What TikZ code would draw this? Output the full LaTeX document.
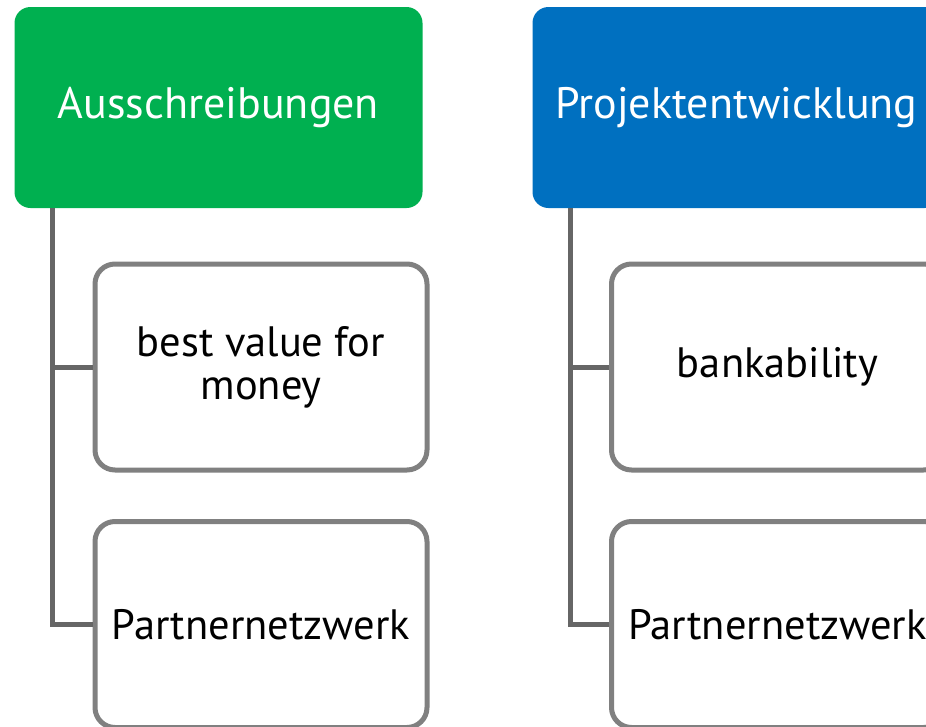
\documentclass[tikz,border=0pt]{standalone}
\usepackage{fontspec}
\setmainfont{PT Sans}
\definecolor{hgreen}{HTML}{00B050}
\definecolor{hblue}{HTML}{0070C0}
\definecolor{conn}{HTML}{666666}
\definecolor{boxline}{HTML}{808080}
\begin{document}
\begin{tikzpicture}[x=1pt,y=-1pt,
  head/.style={rounded corners=16pt, minimum width=408pt, minimum height=201pt,
    inner sep=0pt, text=white, font=\fontsize{44}{48}\selectfont},
  child/.style={draw=boxline, line width=5pt, rounded corners=20pt, fill=white,
    minimum width=332pt, minimum height=206pt, inner sep=0pt,
    align=center, font=\fontsize{42.5}{43}\selectfont},
  link/.style={draw=conn, line width=5pt}]
\useasboundingbox (0,0) rectangle (926,726);
\clip (0,0) rectangle (926,726);
\fill[white] (0,0) rectangle (926,726);
% heads
\node[head, fill=hgreen] (g) at (218.5,107.5) {\raisebox{-4pt}{Ausschreibungen}};
\node[head, fill=hblue] (b) at (736.5,107.5) {\raisebox{-4pt}{Projektentwicklung}};
% children
\node[child] (g1) at (261,367) {best value for\\money};
\node[child] (g2) at (261,624.5) {Partnernetzwerk};
\node[child] (b1) at (777.5,367) {bankability};
\node[child] (b2) at (777.5,624.5) {Partnernetzwerk};
% connectors
\coordinate (gs) at ([xshift=-166pt]g.south);
\coordinate (bs) at ([xshift=-166pt]b.south);
\draw[link] (gs) |- (g1.west);
\draw[link] (gs) |- (g2.west);
\draw[link] (bs) |- (b1.west);
\draw[link] (bs) |- (b2.west);
\end{tikzpicture}
\end{document}
